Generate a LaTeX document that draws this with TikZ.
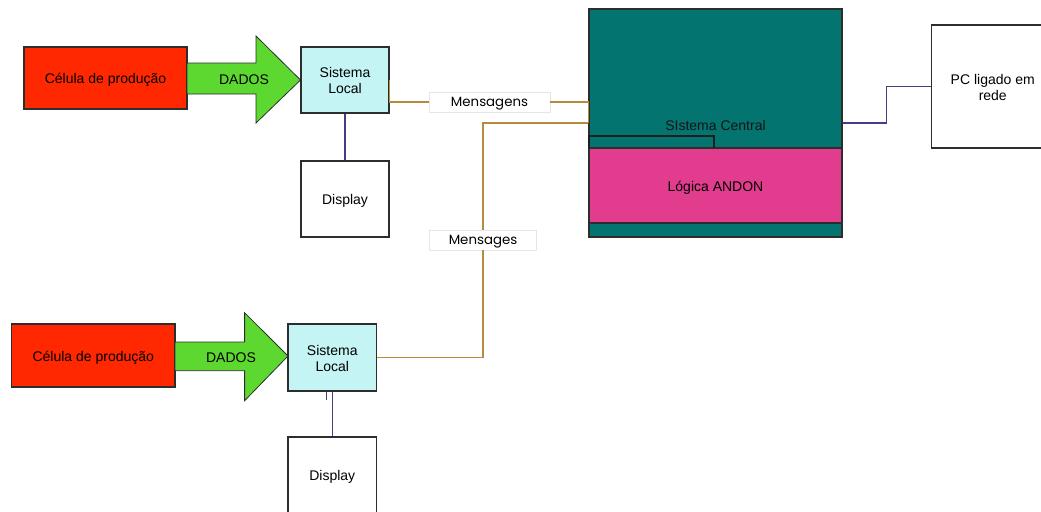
\documentclass[tikz,border=0pt]{standalone}
\usepackage{fontspec}
\setmainfont{Liberation Sans}
\newfontfamily\msgfont{Poppins}
% box text, centred and set slightly low in its box
\newcommand\boxtext[1]{\raisebox{-1.8pt}[\height][\depth]{\begin{tabular}{@{}c@{}}#1\end{tabular}}}
\newcommand\msgtext[1]{\raisebox{-1.3pt}[\height][\depth]{#1}}
\begin{document}
\begin{tikzpicture}[x=0.75pt,y=-0.75pt,
  sz/.style 2 args={minimum width=#1*0.75pt, minimum height=#2*0.75pt, inner sep=0pt},
  box/.style={draw={rgb,255:red,45;green,45;blue,45}, line width=0.8pt,
    font=\fontsize{10.5}{12.2}\selectfont},
  msgbox/.style={draw={rgb,255:red,230;green,230;blue,230}, fill=white, line width=0.6pt,
    inner sep=0pt, font=\msgfont\fontsize{10}{12}\selectfont},
  flowarrow/.style={draw={rgb,255:red,45;green,45;blue,45}, line width=0.6pt, fill=cgreen},
  tanline/.style={draw=ctan, line width=0.8pt},
  purpline/.style={draw=cpurple, line width=0.8pt}]
\definecolor{cred}{RGB}{255,40,0}
\definecolor{cgreen}{RGB}{92,216,48}
\definecolor{ccyan}{RGB}{196,244,244}
\definecolor{cteal}{RGB}{3,116,112}
\definecolor{cpink}{RGB}{226,60,142}
\definecolor{ctan}{RGB}{184,138,60}
\definecolor{cpurple}{RGB}{75,59,133}

\useasboundingbox (0,0) rectangle (1041,511);
\begin{scope}
\clip (0,0) rectangle (1041,511);

% upper production line
\node[box, sz={163}{62}, fill=cred] (cell1) at (105.5,78) {\boxtext{Célula de produção}};
\draw[flowarrow] (187,63) -- (256,63) -- (256,36) -- (300.5,80) -- (256,123) -- (256,94) -- (187,94) -- cycle;
\node[font=\fontsize{10.5}{12}\selectfont] (data1) at (244,80) {DADOS};
\node[box, sz={88}{66}, fill=ccyan] (loc1) at (345,80) {\boxtext{Sistema\\Local}};
\node[box, sz={88}{76}, fill=white] (disp1) at (345,199) {\boxtext{Display}};

% lower production line
\node[box, sz={163.5}{63}, fill=cred] (cell2) at (93.25,355.5) {\boxtext{Célula de produção}};
\draw[flowarrow] (175,342) -- (244.6,342) -- (244.6,312.7) -- (288,356) -- (244.6,400.7) -- (244.6,370.7) -- (175,370.7) -- cycle;
\node[font=\fontsize{10.5}{12}\selectfont] (data2) at (231,358) {DADOS};
\node[box, sz={88.5}{67}, fill=ccyan] (loc2) at (332.25,357.5) {\boxtext{Sistema\\Local}};
\node[box, sz={88.5}{76}, fill=white] (disp2) at (332.25,475) {\boxtext{Display}};

% central system
\node[box, sz={253}{228}, fill=cteal] (central) at (715.5,123) {};
\node[box, sz={253}{75}, fill=cpink] (andon) at (715.5,185.5) {\boxtext{Lógica ANDON}};
\draw[draw={rgb,255:red,30;green,30;blue,30}, line width=0.8pt] (589,148) -- (589,136) -- (714,136) -- (714,148);
\node[font=\fontsize{10.5}{12}\selectfont, text={rgb,255:red,20;green,20;blue,20}] (ctitle) at (715.5,125) {SIstema Central};

% networked PC
\node[box, sz={122.5}{123}, fill=white] (pc) at (992.75,86.5) {\boxtext{PC ligado em\\rede}};

% message labels
\node[msgbox, sz={121}{20}] (msg1) at (489.5,102) {\msgtext{Mensagens}};
\node[msgbox, sz={107}{20}] (msg2) at (483,240) {\msgtext{Mensages}};

% message links to the central system
\draw[tanline] (loc1.east) -- (loc1.east |- msg1.west) -- (msg1.west);
\draw[tanline] (msg1.east) -- (msg1.east -| central.west) -- (central.west);
\draw[tanline] (loc2.east) -| (msg2.south);
\draw[tanline] (msg2.north) |- (central.west);

% display and network links
\draw[purpline] (loc1.south) -- (disp1.north);
\draw[purpline] (loc2.south) -- (disp2.north);
\draw[purpline] ([xshift=-4.5pt]loc2.south) -- ++(0,8);
\draw[purpline] (central.east) -- ++(44,0) |- (pc.west);
\end{scope}
\end{tikzpicture}
\end{document}
